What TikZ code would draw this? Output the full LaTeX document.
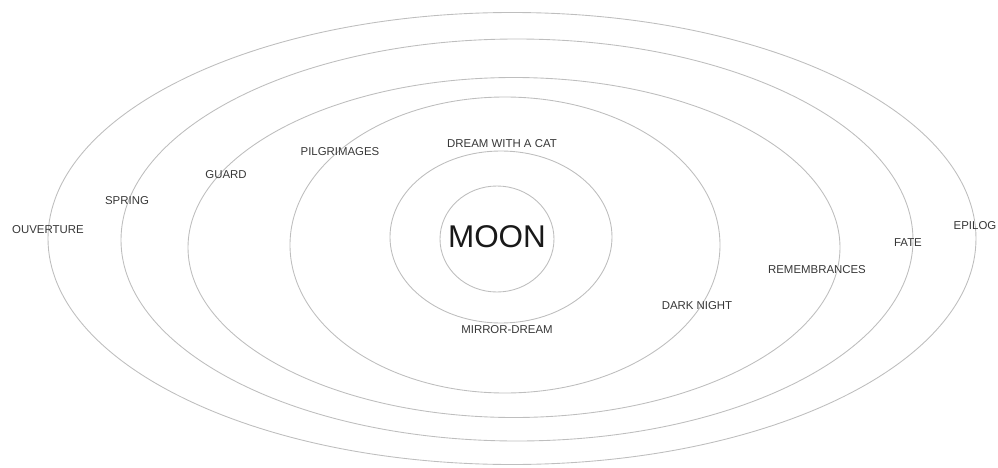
\documentclass[tikz,border=0pt]{standalone}
\usepackage{fontspec}
\setmainfont{Liberation Sans}
\usepackage{tikz}
\usetikzlibrary{positioning}

\definecolor{orbitgray}{RGB}{190,190,190}
\definecolor{textgray}{RGB}{55,55,55}

\tikzset{
    orbit/.style={orbitgray,line width=0.5pt},
    chapter/.style={textgray,inner sep=0pt,font=\fontsize{6.5}{7}\selectfont}
}

\begin{document}
\begin{tikzpicture}
        \useasboundingbox (0,0) rectangle (19.96,9.34);

        \draw[orbit] (10.24,4.57) ellipse (9.28 and 4.52);
        \draw[orbit] (10.34,4.54) ellipse (7.92 and 4.02);
        \draw[orbit] (10.28,4.39) ellipse (6.52 and 3.40);
        \draw[orbit] (10.10,4.44) ellipse (4.30 and 2.96);
        \draw[orbit] (10.02,4.60) ellipse (2.22 and 1.72);
        \draw[orbit] (9.94,4.56) ellipse (1.14 and 1.06);

        \node[black!90,inner sep=0pt,font=\fontsize{17.9}{20}\selectfont] (moon) at (9.94,4.60) {MOON};

        \node[chapter] (dream) at (10.04,6.46) {DREAM WITH A CAT};
        \node[chapter] (mirror) at (10.14,2.74) {MIRROR-DREAM};
        \node[chapter] (pilgrim) at (6.80,6.30) {PILGRIMAGES};
        \node[chapter] (guard) at (4.52,5.84) {GUARD};
        \node[chapter] (spring) at (2.54,5.32) {SPRING};
        \node[chapter] (ouverture) at (0.96,4.74) {OUVERTURE};
        \node[chapter] (epilog) at (19.50,4.82) {EPILOG};
        \node[chapter] (fate) at (18.16,4.48) {FATE};
        \node[chapter] (remember) at (16.34,3.94) {REMEMBRANCES};
        \node[chapter] (darknight) at (13.94,3.22) {DARK NIGHT};
    \end{tikzpicture}
\end{document}
